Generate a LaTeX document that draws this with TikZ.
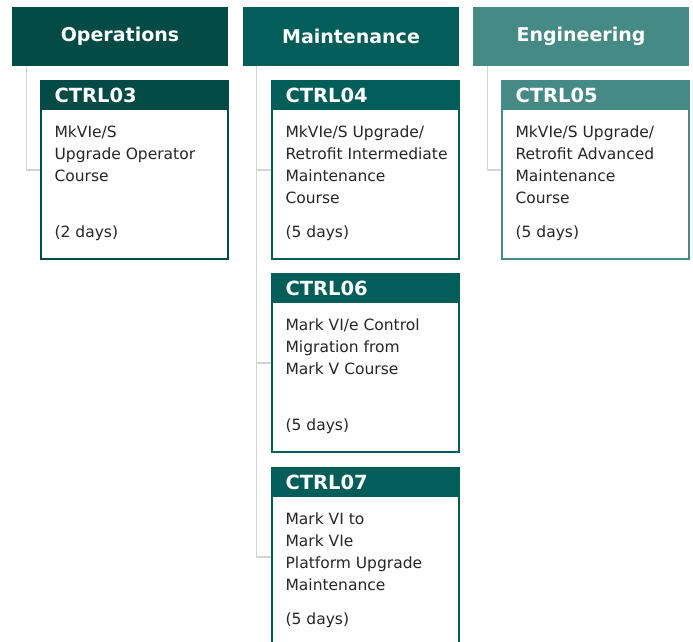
\documentclass[tikz,border=0pt]{standalone}
\usepackage{fontspec}
\setmainfont{DejaVu Sans}
\usetikzlibrary{positioning}
\definecolor{opsgreen}{HTML}{044A45}
\definecolor{mntgreen}{HTML}{035E5A}
\definecolor{enggreen}{HTML}{468A86}
\definecolor{linkgrey}{HTML}{D4D4D4}
\tikzset{
  dept/.style={fill=#1, text=white, font=\bfseries\fontsize{19}{19}\selectfont,
    minimum width=216pt, minimum height=59pt, inner sep=0pt},
  course/.style={draw=#1, line width=1.2pt, fill=white,
    minimum width=187pt, minimum height=178pt, inner sep=0pt},
  band/.style={fill=#1, minimum width=187pt, minimum height=29pt, inner sep=0pt, anchor=north},
  code/.style={text=white, font=\bfseries\fontsize{19.5}{19.5}\selectfont, inner sep=0pt, anchor=base west},
  body/.style={text=black!85, font=\fontsize{15.5}{22}\selectfont, align=left, inner sep=0pt, anchor=base west},
  link/.style={draw=linkgrey, line width=1.2pt}
}

\begin{document}
\begin{tikzpicture}[x=1pt,y=-1pt]
\useasboundingbox (0,0) rectangle (693,642);
% departments
\node[dept=opsgreen] (ops) at (120,36.5) {Operations};
\node[dept=mntgreen] (mnt) at (351,36.5) {Maintenance};
\node[dept=enggreen] (eng) at (581,36.5) {Engineering};

% course boxes
\node[course=opsgreen] (c03) at (134.5,170) {};
\node[course=mntgreen] (c04) at (365.5,170) {};
\node[course=enggreen] (c05) at (595.5,170) {};
\node[course=mntgreen] (c06) at (365.5,363) {};
\node[course=mntgreen] (c07) at (365.5,557) {};

\node[band=opsgreen] (c03t) at (c03.north) {};
\node[band=mntgreen] (c04t) at (c04.north) {};
\node[band=enggreen] (c05t) at (c05.north) {};
\node[band=mntgreen] (c06t) at (c06.north) {};
\node[band=mntgreen] (c07t) at (c07.north) {};

\node[code] (c03c) at ([xshift=14pt,yshift=-22pt]c03.north west) {CTRL03};
\node[code] (c04c) at ([xshift=14pt,yshift=-22pt]c04.north west) {CTRL04};
\node[code] (c05c) at ([xshift=14pt,yshift=-22pt]c05.north west) {CTRL05};
\node[code] (c06c) at ([xshift=14pt,yshift=-22pt]c06.north west) {CTRL06};
\node[code] (c07c) at ([xshift=14pt,yshift=-22pt]c07.north west) {CTRL07};

% base = last line: 3 lines -> 101, 4 lines -> 123
\node[body] (c03b) at ([xshift=14pt,yshift=-101pt]c03.north west) {MkVIe/S\\Upgrade Operator\\Course};
\node[body] (c04b) at ([xshift=14pt,yshift=-123pt]c04.north west) {MkVIe/S Upgrade/\\Retrofit Intermediate\\Maintenance\\Course};
\node[body] (c05b) at ([xshift=14pt,yshift=-123pt]c05.north west) {MkVIe/S Upgrade/\\Retrofit Advanced\\Maintenance\\Course};
\node[body] (c06b) at ([xshift=14pt,yshift=-101pt]c06.north west) {Mark VI/e Control\\Migration from\\Mark V Course};
\node[body] (c07b) at ([xshift=14pt,yshift=-123pt]c07.north west) {Mark VI to\\Mark VIe\\Platform Upgrade\\Maintenance};

\node[body] (c03d) at ([xshift=14pt,yshift=-157pt]c03.north west) {(2 days)};
\node[body] (c04d) at ([xshift=14pt,yshift=-157pt]c04.north west) {(5 days)};
\node[body] (c05d) at ([xshift=14pt,yshift=-157pt]c05.north west) {(5 days)};
\node[body] (c06d) at ([xshift=14pt,yshift=-157pt]c06.north west) {(5 days)};
\node[body] (c07d) at ([xshift=14pt,yshift=-157pt]c07.north west) {(5 days)};

% connectors
\coordinate (otrunk) at ([xshift=15pt]ops.south west);
\coordinate (mtrunk) at ([xshift=14pt]mnt.south west);
\coordinate (etrunk) at ([xshift=15pt]eng.south west);
\draw[link] (otrunk) |- (c03.west);
\draw[link] (etrunk) |- (c05.west);
\draw[link] (mtrunk) |- (c04.west);
\draw[link] (mtrunk) |- (c06.west);
\draw[link] (mtrunk) |- (c07.west);
\end{tikzpicture}
\end{document}
